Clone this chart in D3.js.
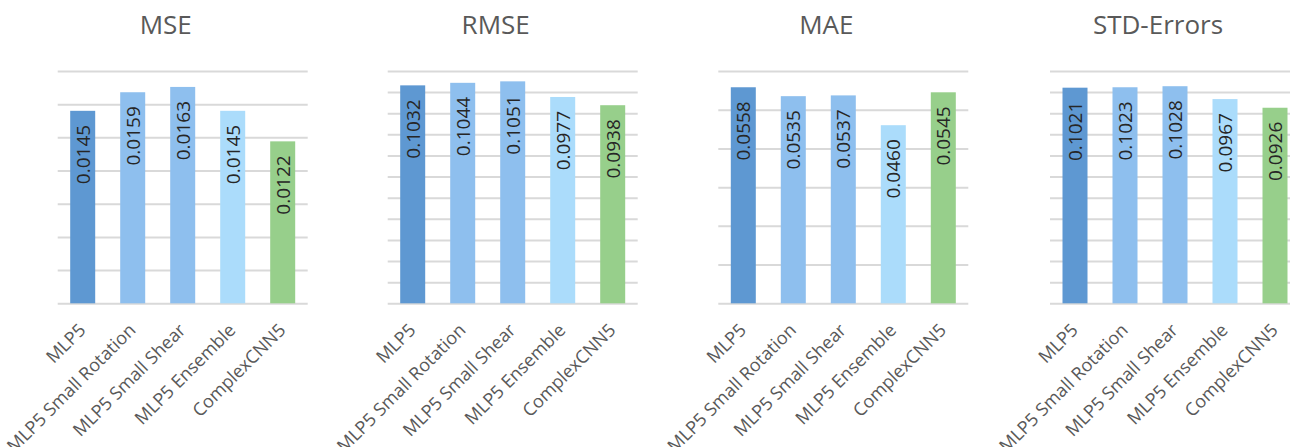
<!DOCTYPE html>
<html>
<head>
<meta charset="utf-8">
<script src="https://cdn.jsdelivr.net/npm/d3@7"></script>
<style>
  body { margin: 0; background: #fff; }
  svg { display: block; font-family: "Open Sans", sans-serif; }
</style>
</head>
<body>
<div id="chart"></div>
<script>
// data
const categories = ["MLP5", "MLP5 Small Rotation", "MLP5 Small Shear", "MLP5 Ensemble", "ComplexCNN5"];
const titles = ["MSE", "RMSE", "MAE", "STD-Errors"];
const mseValues = [0.0145, 0.0159, 0.0163, 0.0145, 0.0122];
const rmseValues = [0.1032, 0.1044, 0.1051, 0.0977, 0.0938];
const maeValues = [0.0558, 0.0535, 0.0537, 0.0460, 0.0545];
const stdValues = [0.1021, 0.1023, 0.1028, 0.0967, 0.0926];
const axisMax = [0.0175, 0.11, 0.06, 0.11];
const axisStep = [0.0025, 0.01, 0.01, 0.01];
const barColors = ["#5e98d2", "#8ebfee", "#8ebfee", "#abdcfb", "#97cf8b"];

const series = [mseValues, rmseValues, maeValues, stdValues];

// layout
const W = 1290, H = 447;
const panelLeft = [57.7, 387.7, 718.3, 1050];
const plotW = 250;
const plotTop = 71, plotBottom = 303.3;

const svg = d3.select("#chart")
    .append("svg")
    .attr("width", W)
    .attr("height", H);

series.forEach(function (values, i) {
    const data = categories.map(function (c, j) { return { key: c, value: values[j], color: barColors[j] }; });

    const g = svg.append("g")
        .attr("transform", "translate(" + panelLeft[i] + ",0)");

    const x = d3.scaleBand()
        .domain(categories)
        .range([0, plotW])
        .paddingInner(0.5)
        .paddingOuter(0.25);

    const y = d3.scaleLinear()
        .domain([0, axisMax[i]])
        .range([plotBottom, plotTop]);

    // gridlines
    const ticks = d3.range(0, axisMax[i] + axisStep[i] / 2, axisStep[i]);
    const grid = g.append("g")
        .call(d3.axisLeft(y).tickValues(ticks).tickSize(-plotW).tickFormat(""));
    grid.select(".domain").remove();
    grid.selectAll("line")
        .attr("stroke", "#d9d9d9")
        .attr("stroke-width", 2);

    // title
    g.append("text")
        .attr("x", 108)
        .attr("y", 34)
        .attr("text-anchor", "middle")
        .style("font-size", "26px")
        .attr("fill", "#595959")
        .text(titles[i]);

    // bars
    g.selectAll("rect.bar")
        .data(data)
        .enter()
        .append("rect")
        .attr("class", "bar")
        .attr("x", function (d) { return x(d.key); })
        .attr("y", function (d) { return y(d.value); })
        .attr("width", x.bandwidth())
        .attr("height", function (d) { return plotBottom - y(d.value); })
        .attr("fill", function (d) { return d.color; });

    // value labels
    g.selectAll("text.val")
        .data(data)
        .enter()
        .append("text")
        .attr("class", "val")
        .attr("transform", function (d) {
            return "translate(" + (x(d.key) + x.bandwidth() / 2) + "," + (y(d.value) + 14) + ")rotate(-90)";
        })
        .attr("text-anchor", "end")
        .attr("dy", "0.36em")
        .style("font-size", "19px")
        .attr("fill", "#262626")
        .text(function (d) { return d.value.toFixed(4); });

    // category axis
    const xAxis = g.append("g")
        .attr("transform", "translate(0," + plotBottom + ")")
        .call(d3.axisBottom(x).tickSize(0));
    xAxis.attr("font-family", "Open Sans, sans-serif");
    xAxis.select(".domain").remove();
    xAxis.selectAll("text")
        .style("font-size", "18px")
        .attr("fill", "#595959")
        .attr("dy", null)
        .attr("y", 0)
        .attr("text-anchor", "end")
        .attr("transform", "translate(4,28)rotate(-45)");
});
</script>
</body>
</html>
